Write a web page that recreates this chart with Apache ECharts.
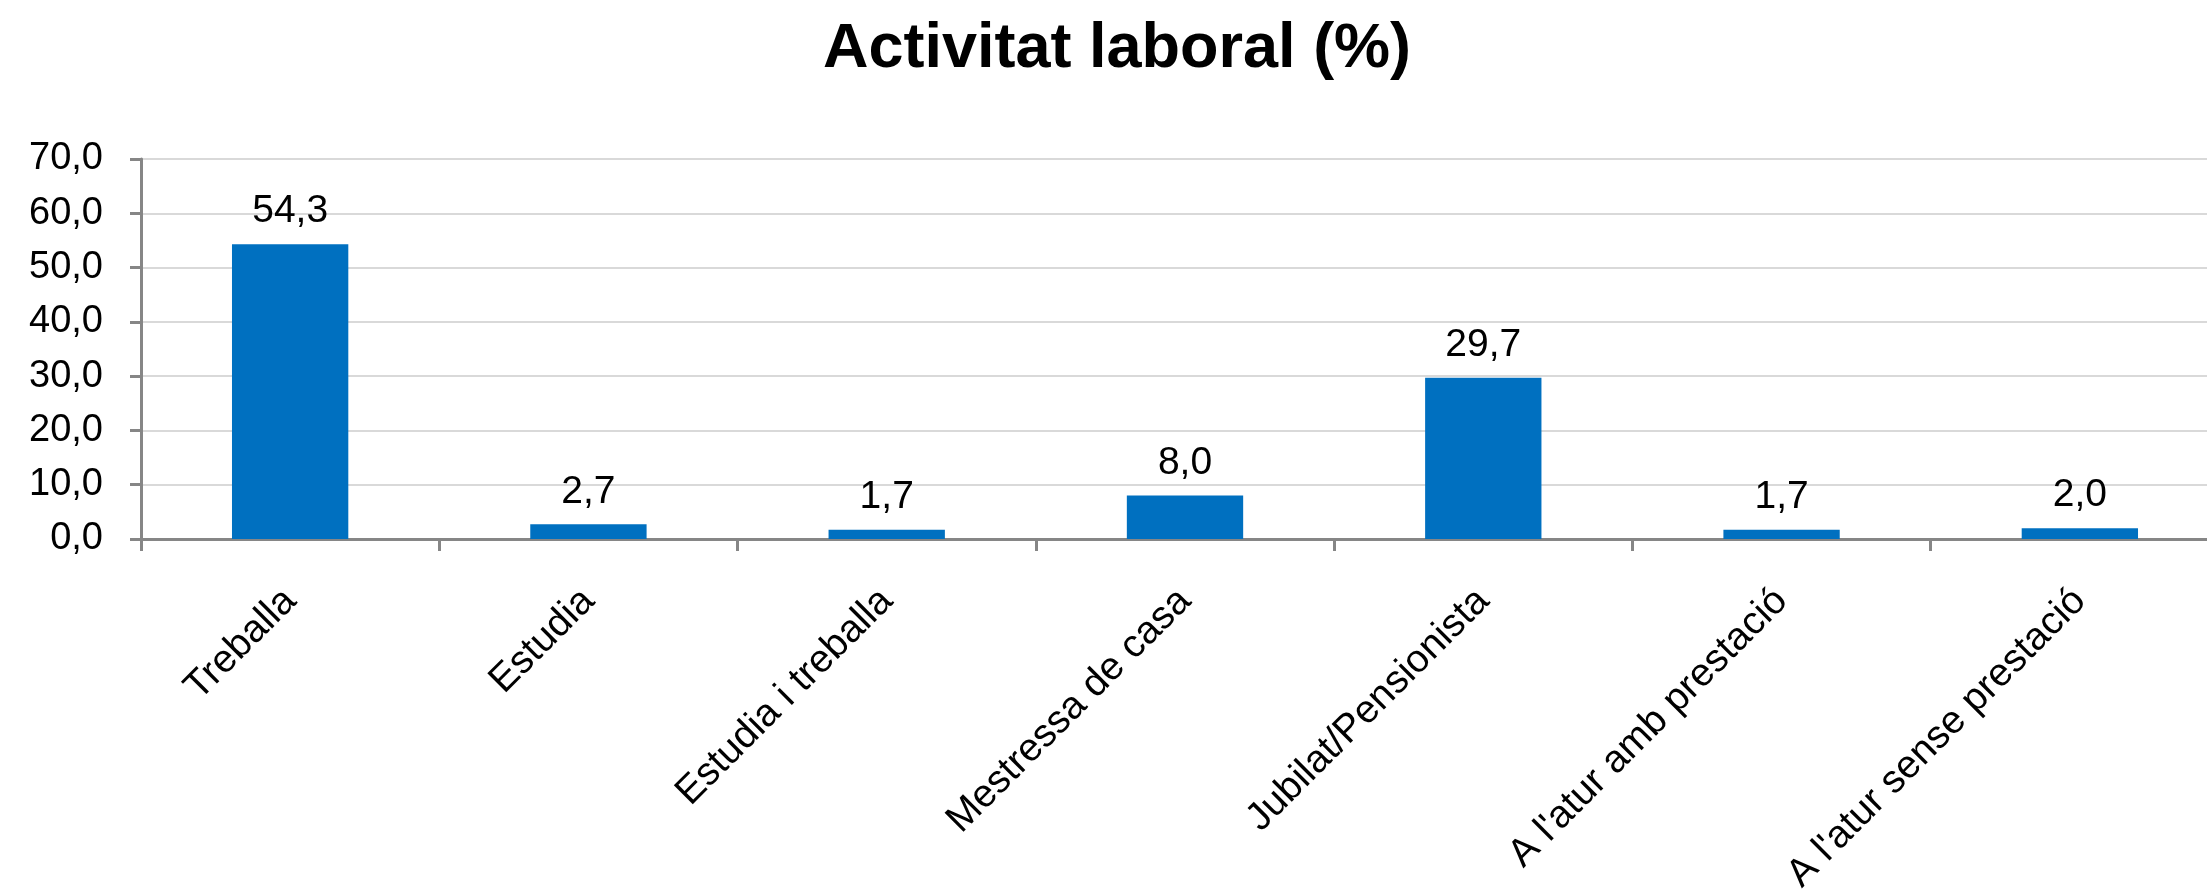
<!DOCTYPE html>
<html>
<head>
<meta charset="utf-8">
<title>Activitat laboral (%)</title>
<script src="https://cdn.jsdelivr.net/npm/echarts@6/dist/echarts.min.js"></script>
<style>
    html, body { margin: 0; padding: 0; background: #fff; }
    #chart { width: 2207px; height: 896px; }
</style>
</head>
<body>
<div id="chart"></div>
<script>
// categories and values
const categories = [
    'Treballa',
    'Estudia',
    'Estudia i treballa',
    'Mestressa de casa',
    'Jubilat/Pensionista',
    "A l'atur amb prestació",
    "A l'atur sense prestació",
]
const values = [54.3, 2.7, 1.7, 8.0, 29.7, 1.7, 2.0]
const yTicks = [0, 10, 20, 30, 40, 50, 60, 70]

const FONT = '"Liberation Sans", Arial, sans-serif'
const AXIS_GREY = '#868686'
const fmt = v => Number(v).toFixed(1).replace('.', ',')

const chart = echarts.init(document.getElementById('chart'), null, { renderer: 'canvas' })

chart.setOption({
    animation: false,
    backgroundColor: '#fff',
    title: {
        text: 'Activitat laboral (%)',
        left: 818,
        top: 13,
        textStyle: { fontFamily: FONT, fontSize: 63, fontWeight: 'bold', color: '#000' },
    },
    // the plot runs a little past the right edge of the picture
    grid: {
        left: 141, width: 2088, top: 159, bottom: 357,
        containLabel: false,
        outerBoundsMode: 'none',
    },
    xAxis: {
        type: 'category',
        data: categories,
        axisLine: { lineStyle: { color: AXIS_GREY, width: 3 } },
        axisTick: { show: true, length: 12, lineStyle: { color: AXIS_GREY, width: 3 } },
        axisLabel: {
            rotate: 45,
            interval: 0,
            margin: 56,
            align: 'right',
            verticalAlign: 'middle',
            padding: [16, 0, 0, 0],
            color: '#000',
            fontFamily: FONT,
            fontSize: 39,
        },
    },
    yAxis: {
        type: 'value',
        min: yTicks[0],
        max: yTicks[yTicks.length - 1],
        interval: yTicks[1] - yTicks[0],
        axisLine: { show: true, lineStyle: { color: AXIS_GREY, width: 3 } },
        axisTick: { show: true, length: 11, lineStyle: { color: AXIS_GREY, width: 3 } },
        axisLabel: {
            margin: 38,
            color: '#000',
            fontFamily: FONT,
            fontSize: 38,
            padding: [8, 0, 0, 0],
            formatter: fmt,
        },
        splitLine: { lineStyle: { color: '#D9D9D9', width: 2 } },
    },
    series: [{
        type: 'bar',
        data: values,
        barWidth: '39%',
        itemStyle: { color: '#0070C0' },
        label: {
            show: true,
            position: 'top',
            distance: 13,
            color: '#000',
            fontFamily: FONT,
            fontSize: 39,
            formatter: p => fmt(p.value),
        },
    }],
})
</script>
</body>
</html>
